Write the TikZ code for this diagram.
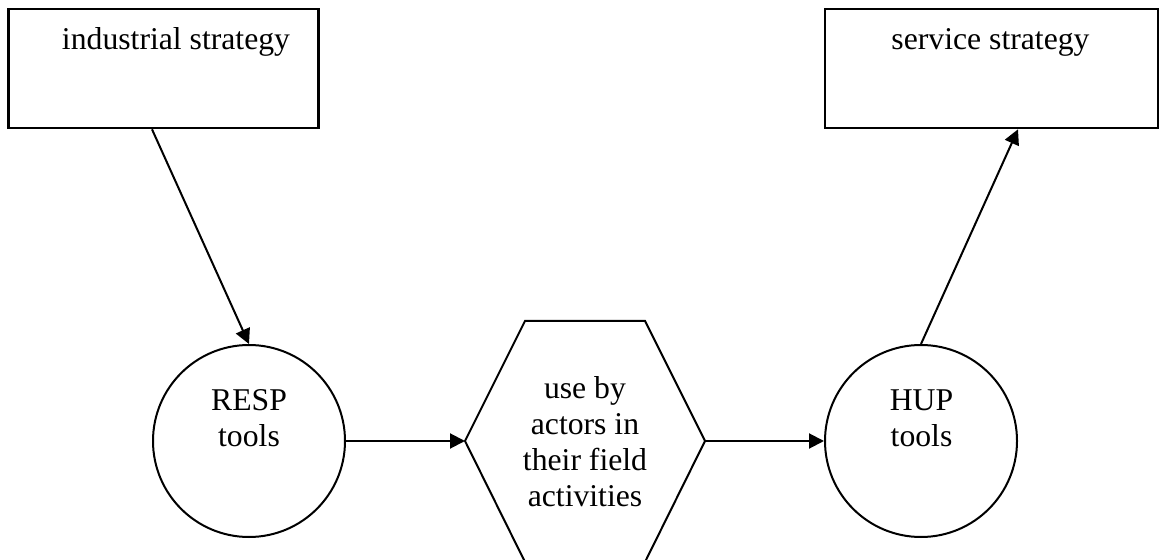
\documentclass[tikz,border=0pt]{standalone}
\usepackage{fontspec}
\setmainfont{Liberation Serif}
\usetikzlibrary{arrows.meta}
\begin{document}
\begin{tikzpicture}[x=0.5pt,y=-0.5pt,
  stratbox/.style={draw, line width=1.3pt, minimum height=59.5pt, inner sep=0pt},
  toolcircle/.style={draw, circle, line width=1pt, minimum size=96pt, inner sep=0pt},
  lbl/.style={anchor=base, inner sep=0pt, align=center,
    font=\fontsize{15.85}{18.15}\selectfont},
  arr/.style={line width=1pt, -{Triangle[length=7.5pt,width=7.5pt]}}
]
\useasboundingbox (0,0) rectangle (1161,560);

% strategy boxes
\node[stratbox, minimum width=155pt] (ind) at (163.2,68.5) {};
\node[stratbox, minimum width=166.5pt] (svc) at (991.5,68.5) {};
\node[lbl] (indtxt) at (176,50) {industrial strategy};
\node[lbl] (svctxt) at (990.5,50) {service strategy};

% tool circles (labels anchored on the baseline of their last line)
\node[toolcircle] (resp) at (249,441) {};
\node[toolcircle] (hup) at (921,441) {};
\node[lbl] (resptxt) at (249,447) {RESP\\tools};
\node[lbl] (huptxt) at (921.5,447) {HUP\\tools};

% hexagon for field use
\coordinate (hexL) at (465,441);
\coordinate (hexR) at (705,441);
\draw[line width=1pt] (hexL) -- (525,321) -- (645,321) -- (hexR) -- (645,562) -- (525,562) -- cycle;
\node[lbl] (usetxt) at (585,507) {use by\\actors in\\their field\\activities};

% connectors
\draw[arr] (ind.south -| resp.west) -- (resp.north);
\draw[arr] (resp.east) -- (hexL);
\draw[arr] (hexR) -- (hup.west);
\draw[arr] (hup.north) -- (svc.south -| hup.east);
\end{tikzpicture}
\end{document}
